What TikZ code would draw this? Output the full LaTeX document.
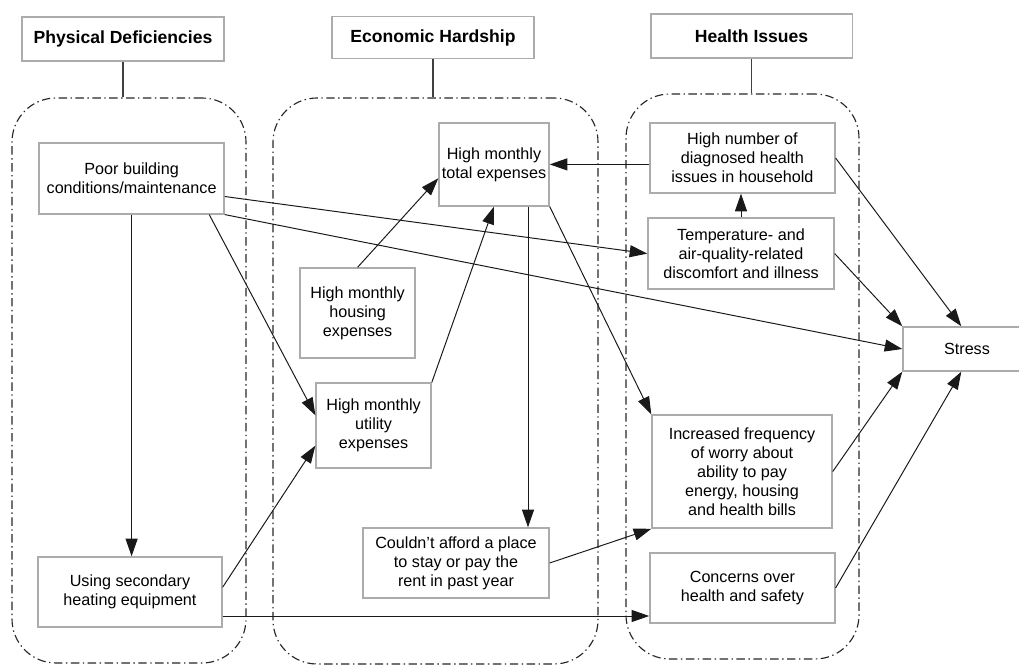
\documentclass[tikz,border=0pt]{standalone}
\usepackage{fontspec}
\setmainfont{Liberation Sans}
\usetikzlibrary{arrows.meta,calc}

\begin{document}
\begin{tikzpicture}[scale=1.0,
    box/.style={draw=gray!65,line width=1pt,align=center,inner sep=2pt,
      font=\fontsize{11.5}{13.5}\selectfont},
    head/.style={box,font=\fontsize{12.5}{15}\selectfont\bfseries},
    grp/.style={draw=black!85,line width=0.8pt,rounded corners=1.1cm,
      dash pattern=on 6pt off 2.5pt on 1pt off 2.5pt},
    link/.style={draw=black!75,line width=0.9pt},
    arr/.style={draw=black!90,line width=0.7pt,-{Triangle[length=4.4mm,width=3mm]}}]
  \useasboundingbox (0,0) rectangle (25.475,16.65);

  % the three groups and their headings
  \node[grp,minimum width=5.85cm,minimum height=14.125cm] (gPhys) at (3.225,7.1375) {};
  \node[grp,minimum width=8.125cm,minimum height=14.15cm] (gEcon) at (10.8875,7.125) {};
  \node[grp,minimum width=5.825cm,minimum height=14.125cm] (gHealth) at (18.5625,7.2375) {};
  \node[head,minimum width=5.05cm,minimum height=1.1cm] (hPhys) at (3.075,15.675) {Physical Deficiencies};
  \node[head,minimum width=5.05cm,minimum height=1.05cm] (hEcon) at (10.825,15.71) {Economic Hardship};
  \node[head,minimum width=5.03cm,minimum height=1.1cm] (hHealth) at (18.79,15.75) {Health Issues};
  \draw[link] (hPhys.south) -- (hPhys.south |- gPhys.north);
  \draw[link] (hEcon.south) -- (hEcon.south |- gEcon.north);
  \draw[link] (hHealth.south) -- (hHealth.south |- gHealth.north);

  % factors
  \node[box,minimum width=4.625cm,minimum height=1.775cm] (poor) at (3.29,12.19) {Poor building\\conditions/maintenance};
  \node[box,minimum width=4.6cm,minimum height=1.75cm] (heat) at (3.25,1.85) {Using secondary\\heating equipment};
  \node[box,inner xsep=0pt,minimum width=2.75cm,minimum height=2.075cm] (total) at (12.35,12.54) {High monthly\\total expenses};
  \node[box,minimum width=2.875cm,minimum height=2.25cm] (housing) at (8.94,8.825) {High monthly\\housing\\expenses};
  \node[box,minimum width=2.875cm,minimum height=2.125cm] (utility) at (9.34,6.01) {High monthly\\utility\\expenses};
  \node[box,minimum width=4.65cm,minimum height=1.75cm] (afford) at (11.4,2.575) {Couldn't afford a place\\to stay or pay the\\rent in past year};
  \node[box,minimum width=4.625cm,minimum height=1.75cm] (diag) at (18.56,12.7) {High number of\\diagnosed health\\issues in household};
  \node[box,minimum width=4.65cm,minimum height=1.775cm] (temp) at (18.525,10.31) {Temperature- and\\air-quality-related\\discomfort and illness};
  \node[box,minimum width=4.5cm,minimum height=2.825cm] (worry) at (18.55,4.86) {Increased frequency\\of worry about\\ability to pay\\energy, housing\\and health bills};
  \node[box,minimum width=4.625cm,minimum height=1.75cm] (concern) at (18.56,1.95) {Concerns over\\health and safety};
  \node[box,minimum width=3.2cm,minimum height=1.1cm] (stress) at (24.175,7.925) {Stress};
  \coordinate (sTop) at ($(stress.north west)+(1.475,0)$);
  \coordinate (sBot) at ($(stress.south west)+(1.475,0)$);

  % arrows
  \draw[arr] (poor.south) -- (poor.south |- heat.north);
  \draw[arr] (poor.-25) -- (utility.170);
  \draw[arr] (poor.-11) -- (temp.west);
  \draw[arr] (poor.south east) -- (stress.west);
  \draw[arr] (heat.3) -- (utility.199);
  \coordinate (heatOut) at ($(heat.east)+(0,-0.6)$);
  \draw[arr] (heatOut) -- (heatOut -| concern.west);
  \draw[arr] (housing.north) -- (total.194);
  \draw[arr] (utility.north east) -- (total.south);
  \coordinate (totalOut) at ($(total.south)+(0.85,0)$);
  \draw[arr] (totalOut) -- (totalOut |- afford.north);
  \draw[arr] (total.south east) -- (worry.north west);
  \draw[arr] (diag.west |- total.east) -- (total.east);
  \draw[arr] (temp.north) -- (temp.north |- diag.south);
  \draw[arr] (diag.east) -- (sTop);
  \draw[arr] (temp.east) -- (stress.north west);
  \draw[arr] (worry.east) -- (stress.south west);
  \draw[arr] (concern.east) -- (sBot);
  \draw[arr] (afford.east) -- (worry.south west);
\end{tikzpicture}
\end{document}
